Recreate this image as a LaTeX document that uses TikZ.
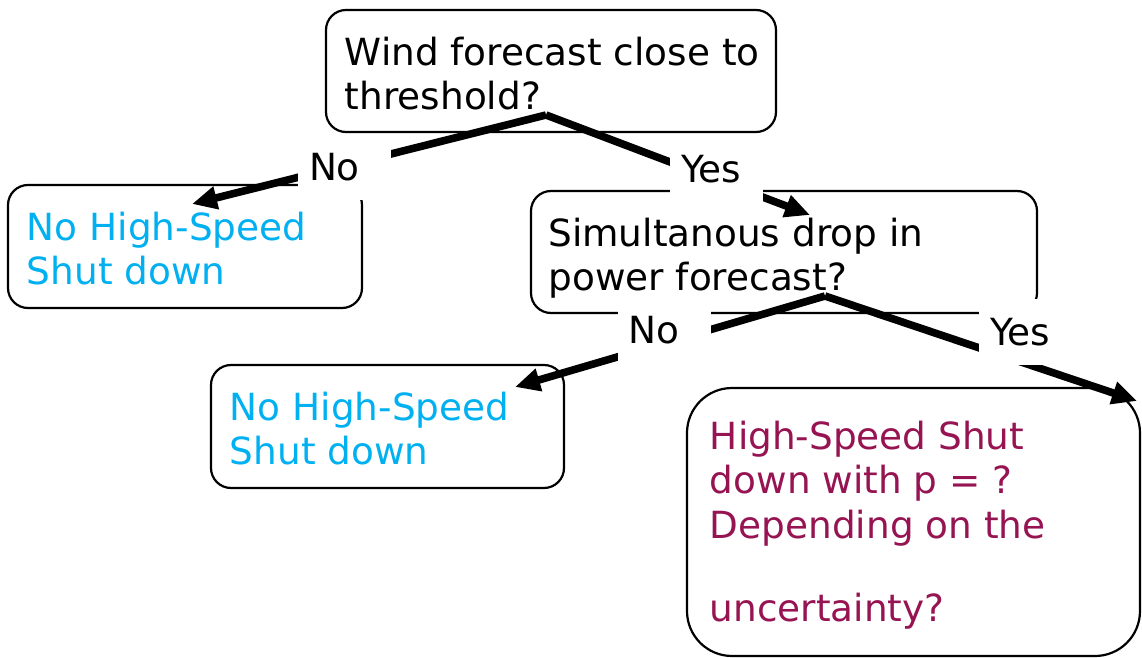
\documentclass[tikz,border=0pt]{standalone}
\usepackage{fontspec}
\setmainfont{DejaVu Sans}
\usetikzlibrary{arrows.meta}
\definecolor{skyblue}{RGB}{0,176,240}
\definecolor{plum}{RGB}{150,20,82}
\begin{document}
\begin{tikzpicture}[x=0.5pt,y=-0.5pt,
  box/.style={draw=black, line width=1.1pt, rounded corners=10pt, inner sep=0pt},
  txt/.style={anchor=north west, inner sep=0pt, align=left, font=\fontsize{18.7pt}{22.3pt}\selectfont},
  edge/.style={line width=3.8pt, -{Triangle[length=12.5pt,width=11pt]}},
  lab/.style={fill=white, minimum width=46.5pt, minimum height=33pt, inner xsep=5.5pt, inner ysep=0pt, text width=35.5pt, align=left, font=\fontsize{18.7pt}{22.3pt}\selectfont}]
\useasboundingbox (0,0) rectangle (1142,658);
% boxes
\node[box, minimum width=225pt, minimum height=61pt] (q1) at (551,71) {};
\node[box, minimum width=177pt, minimum height=61.5pt] (r1) at (185,246.5) {};
\node[box, minimum width=253pt, minimum height=61pt] (q2) at (784,252) {};
\node[box, minimum width=176.5pt, minimum height=61.5pt] (r2) at (387.5,426.5) {};
\node[box, rounded corners=22.5pt, minimum width=226.5pt, minimum height=134pt] (r3) at (913.5,522) {};
% texts
\node[txt] (q1t) at (344.5,36.5) {Wind forecast close to\\threshold?};
\node[txt, text=skyblue] (r1t) at (26.5,211.5) {No High-Speed\\Shut down};
\node[txt] (q2t) at (548,217.5) {Simultanous drop in\\power forecast?};
\node[txt, text=skyblue] (r2t) at (229.5,391.5) {No High-Speed\\Shut down};
\node[txt, text=plum] (r3t) at (709.5,420.5) {High-Speed Shut\\down with p = ?\\Depending on the\\[19.3pt]uncertainty?};
% connector points
\coordinate (a1) at (546,115);
\coordinate (a2) at (825,296);
\coordinate (tn1) at (192,204);
\coordinate (ty1) at (810,215);
\coordinate (tn2) at (515,387);
\coordinate (ty2) at (1137,401);
% edges
\draw[edge] (a1) -- (tn1);
\draw[edge] (a1) -- (ty1);
\draw[edge] (a2) -- (tn2);
\draw[edge] (a2) -- (ty2);
% labels
\node[lab] (ln1) at (344.5,167) {No};
\node[lab] (ly1) at (716.5,169) {Yes};
\node[lab] (ln2) at (664,330) {No};
\node[lab] (ly2) at (1025.5,332) {Yes};
\end{tikzpicture}
\end{document}
